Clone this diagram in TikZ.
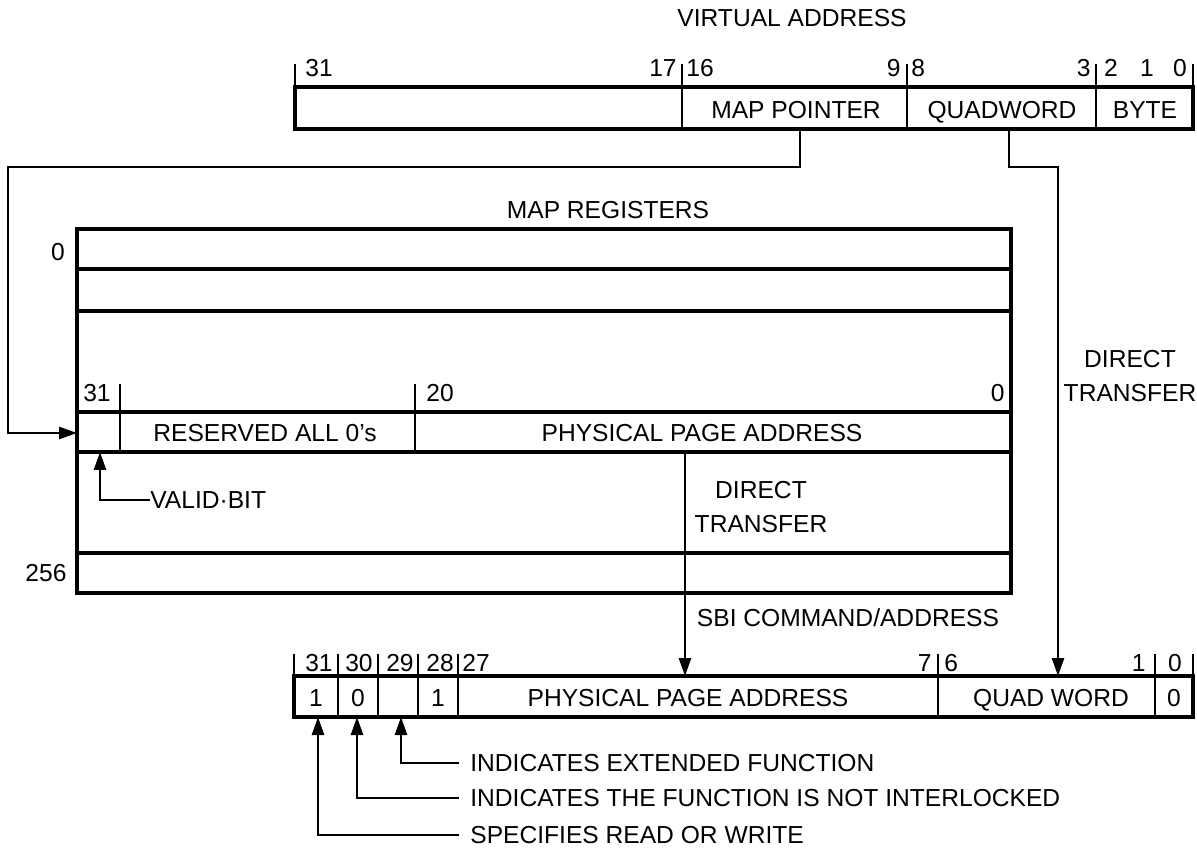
\documentclass[tikz,border=0pt]{standalone}
\usepackage{fontspec}
\setmainfont{Liberation Sans}
\usetikzlibrary{arrows.meta,calc,positioning}
\tikzset{
  reg/.style={line width=1.9pt},
  fld/.style={line width=0.9pt},
  conn/.style={line width=1.5pt,-{Triangle[length=0.36cm,width=0.24cm]}},
  lbl/.style={inner sep=0pt,text depth=0pt,font=\fontsize{14}{19}\selectfont},
  note/.style={lbl,anchor=west,inner xsep=0.22cm},
}
\begin{document}
\begin{tikzpicture}[x=0.02cm,y=-0.02cm]
  \useasboundingbox(0,0) rectangle (1197,848);
  \node[lbl](vatitle) at (792,18){VIRTUAL ADDRESS};
  \draw[reg](295,87) rectangle (1193,129);
  \foreach \x in {682,907,1096}\draw[fld](\x,87)--(\x,129);
  \foreach \x in {295,682,907,1096,1193}\draw[fld](\x,64)--(\x,87);
  \foreach \t/\x in {31/305,16/686,8/911}\node[lbl,anchor=west](va\t) at (\x,68){\t};
  \foreach \t/\x in {17/677,9/901,3/1091}\node[lbl,anchor=east](va\t) at (\x,68){\t};
  \foreach \t/\x in {2/1111,1/1147,0/1180}\node[lbl](va\t) at (\x,68){\t};
  \node[lbl](mp) at (796,110){MAP POINTER};
  \node[lbl](qw) at (1002,110){QUADWORD};
  \node[lbl](byte) at (1145,110){BYTE};

  \node[lbl](mrtitle) at (608,210){MAP REGISTERS};
  \draw[reg](77,229) rectangle (1011,593);
  \foreach \y in {269,311,412,452,553}\draw[reg](77,\y)--(1011,\y);
  \node[lbl](mr0) at (58,252){0};
  \node[lbl](mr256) at (46,573){256};
  \foreach \x in {120,415}\draw[fld](\x,384)--(\x,452);
  \node[lbl](pa31) at (97,393){31};
  \node[lbl](pa20) at (440,393){20};
  \node[lbl,anchor=east](pa0) at (1005,393){0};
  \node[lbl](res) at (265,433){RESERVED ALL 0’s};
  \node[lbl](ppa) at (702,433){PHYSICAL PAGE ADDRESS};
  \coordinate(vb) at (100,452);
  \node[lbl,anchor=west](valid) at (150,500){VALID·BIT};
  \draw[conn](valid.west)-|(vb);

  \coordinate(mpout) at (800,129);
  \coordinate(mpturn) at (8,167);
  \coordinate(mrin) at (77,433);
  \draw[conn](mpout)|-(mpturn)|-(mrin);
  \coordinate(qwout) at (1009,129);
  \coordinate(qwin) at (1058,676);
  \draw[conn](qwout)--++(0,38)-|(qwin);
  \node[lbl,align=center](dtright) at (1130,376){DIRECT\\TRANSFER};
  \coordinate(ppout) at (685,452);
  \coordinate(ppin) at (685,676);
  \draw[conn](ppout)--(ppin);
  \node[lbl,align=center](dtmid) at (761,507){DIRECT\\TRANSFER};

  \node[lbl](sbi) at (848,618){SBI COMMAND/ADDRESS};
  \draw[reg](294,676) rectangle (1193,717);
  \foreach \x in {338,378,418,458,938,1155}\draw[fld](\x,676)--(\x,717);
  \foreach \x in {294,338,378,418,458,938,1155,1193}\draw[fld](\x,654)--(\x,676);
  \foreach \t/\x in {31/319,30/359,29/400,28/440}\node[lbl](sb\t) at (\x,663){\t};
  \node[lbl,anchor=west](sb27) at (462,663){27};
  \node[lbl,anchor=east](sb7) at (932,663){7};
  \node[lbl,anchor=west](sb6) at (944,663){6};
  \node[lbl,anchor=east](sb1) at (1146,663){1};
  \node[lbl](sb0) at (1175,663){0};
  \node[lbl](rw) at (316,698){1};
  \node[lbl](il) at (358,698){0};
  \node[lbl](ef) at (438,698){1};
  \node[lbl](sbppa) at (688,698){PHYSICAL PAGE ADDRESS};
  \node[lbl](sbqw) at (1051,698){QUAD WORD};
  \node[lbl](sbz) at (1174,698){0};
  \coordinate(c31) at (318,717);
  \coordinate(c30) at (357,717);
  \coordinate(c29) at (401,717);
  \node[note](n29) at (459,763){INDICATES EXTENDED FUNCTION};
  \node[note](n30) at (459,798){INDICATES THE FUNCTION IS NOT INTERLOCKED};
  \node[note](n31) at (459,835){SPECIFIES READ OR WRITE};
  \draw[conn](n29.west)-|(c29);
  \draw[conn](n30.west)-|(c30);
  \draw[conn](n31.west)-|(c31);
\end{tikzpicture}
\end{document}
